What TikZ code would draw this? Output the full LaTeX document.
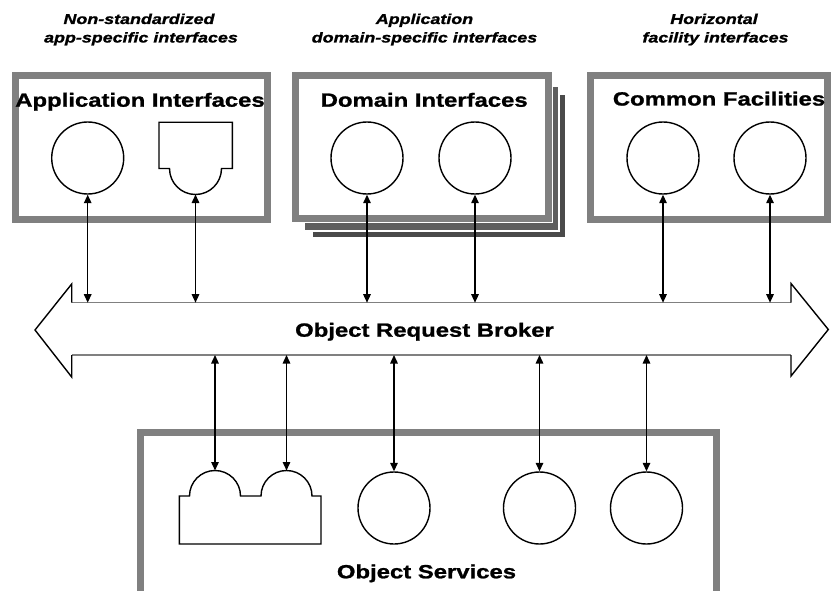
\documentclass[tikz,border=0pt]{standalone}
\usepackage{fontspec}
\setmainfont{Liberation Sans}[FakeStretch=1.25, BoldFeatures={FakeBold=1.2}, BoldItalicFeatures={FakeBold=1.2}]
\usetikzlibrary{arrows.meta}
\definecolor{boxgray}{HTML}{808080}
\definecolor{shadowA}{HTML}{5E5E5E}
\definecolor{shadowB}{HTML}{4A4A4A}
\begin{document}
\begin{tikzpicture}[x=1pt,y=-1pt,
  frame/.style={draw=boxgray, line width=7pt, fill=white},
  iface/.style={circle, draw, line width=1.4pt, minimum size=72pt, inner sep=0pt},
  shapeline/.style={draw, line width=1.4pt, line join=miter},
  title/.style={font=\fontsize{19.1}{22}\selectfont\bfseries, anchor=base, inner sep=0pt},
  note/.style={font=\fontsize{14.3}{17}\selectfont\bfseries\itshape, anchor=base, inner sep=0pt},
  link/.style={{Triangle[length=8.5pt,width=7.5pt]}-{Triangle[length=8.5pt,width=7.5pt]}, line width=1.4pt},
  orbline/.style={draw=boxgray, line width=1.5pt},
  orbhead/.style={draw, line width=1.4pt, line join=miter}]

\useasboundingbox (0,0) rectangle (835,591);

% ---- boxes
\draw[frame] (15.3,75.5) rectangle (267,219);

\fill[shadowB] (313.3,95) rectangle (565,236.7);
\fill[white] (303.5,85.2) rectangle (559.8,231.5);
\fill[shadowA] (305,86.7) rectangle (558.3,230);
\fill[white] (290.2,70.2) rectangle (553.2,223.2);
\draw[frame] (295.5,75.2) rectangle (548.2,218.3);

\draw[frame] (590.3,75.2) rectangle (827.5,219.5);
\draw[draw=boxgray, line width=7pt] (140.8,591) -- (140.8,432.8) -- (716.5,432.8) -- (716.5,591);

% ---- top labels
\node[note] (n1a) at (139,24) {Non-standardized};
\node[note] (n1b) at (141,42.5) {app-specific interfaces};
\node[note] (n2a) at (424.5,24) {Application};
\node[note] (n2b) at (424.5,42.5) {domain-specific interfaces};
\node[note] (n3a) at (714,24) {Horizontal};
\node[note] (n3b) at (715.5,42.5) {facility interfaces};

% ---- titles
\node[title] (tA) at (140,106.7) {Application Interfaces};
\node[title] (tD) at (424.2,106.7) {Domain Interfaces};
\node[title] (tC) at (719,105.5) {Common Facilities};
\node[title] (tS) at (426.5,578.3) {Object Services};

% ---- interface objects
\node[iface] (a1) at (87.7,158) {};
\draw[shapeline] (159,122.3) -- (232.3,122.3) -- (232.3,168.5) -- (221.5,168.5)
  arc[start angle=0, end angle=180, radius=26] -- (159,168.5) -- cycle;
\coordinate (a2) at (195.5,194.5);
\node[iface] (d1) at (367,158) {};
\node[iface] (d2) at (475,158) {};
\node[iface] (c1) at (663,158) {};
\node[iface] (c2) at (770,158) {};

\draw[shapeline] (179.3,544) -- (179.3,496) -- (189.5,496)
  arc[start angle=180, end angle=360, radius=25.5] -- (261,496)
  arc[start angle=180, end angle=360, radius=25.5] -- (321,496) -- (321,544) -- cycle;
\coordinate (s1) at (215,470.5);
\coordinate (s2) at (286.5,470.5);
\node[iface] (s3) at (394,508) {};
\node[iface] (s4) at (539.5,508) {};
\node[iface] (s5) at (646.5,508) {};

% ---- ORB
\draw[orbline] (71.7,302.7) -- (791,302.7);
\draw[orbline] (71.7,355) -- (791,355);
\draw[orbhead] (71.7,302.7) -- (71.7,284) -- (35,330) -- (71.7,377) -- (71.7,355);
\draw[orbhead] (791,302.7) -- (791,283.5) -- (828.3,329.5) -- (791,376) -- (791,355);
\node[title] (orb) at (424.5,336.7) {Object Request Broker};

\coordinate (t1) at (87.7,302.7);
\coordinate (t2) at (195.5,302.7);
\coordinate (t3) at (367,302.7);
\coordinate (t4) at (475,302.7);
\coordinate (t5) at (663,302.7);
\coordinate (t6) at (770,302.7);
\coordinate (b1) at (215,355);
\coordinate (b2) at (286.5,355);
\coordinate (b3) at (394,355);
\coordinate (b4) at (539.5,355);
\coordinate (b5) at (646.5,355);

% ---- connectors
\draw[link] (a1.south) -- (t1);
\draw[link] (a2) -- (t2);
\draw[link] (d1.south) -- (t3);
\draw[link] (d2.south) -- (t4);
\draw[link] (c1.south) -- (t5);
\draw[link] (c2.south) -- (t6);
\draw[link] (b1) -- (s1);
\draw[link] (b2) -- (s2);
\draw[link] (b3) -- (s3.north);
\draw[link] (b4) -- (s4.north);
\draw[link] (b5) -- (s5.north);
\end{tikzpicture}
\end{document}
